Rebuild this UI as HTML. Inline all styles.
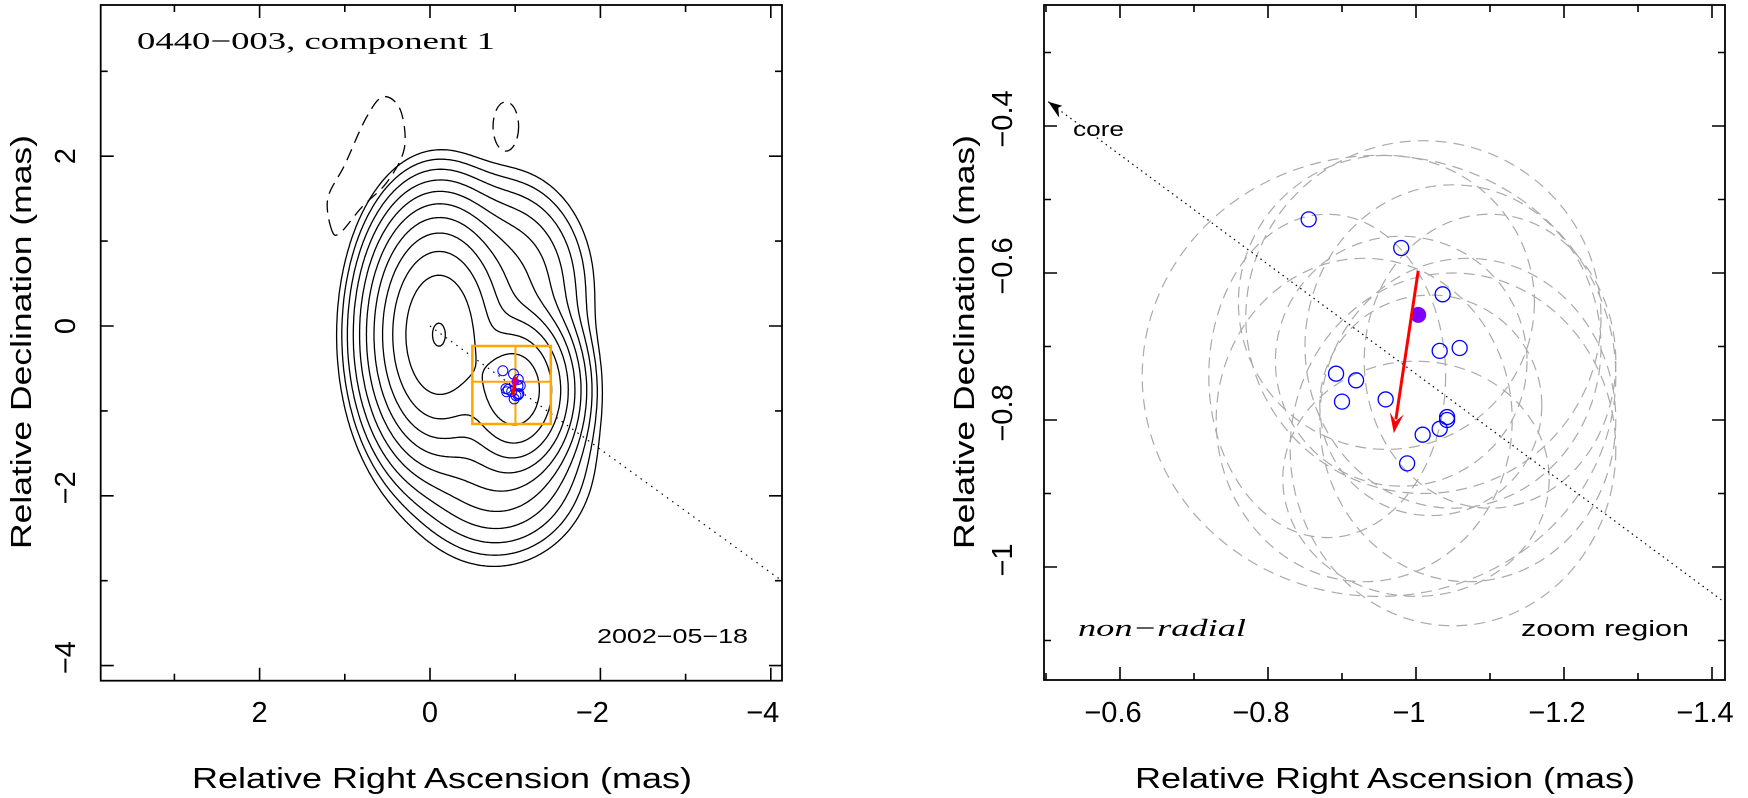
<!DOCTYPE html>
<html><head><meta charset="utf-8"><style>
html,body{margin:0;padding:0;background:#fff}
svg{display:block}
text{font-family:"Liberation Sans",sans-serif;fill:#000}
</style></head><body>
<svg id="chart" width="1748" height="798" viewBox="0 0 1748 798" xmlns="http://www.w3.org/2000/svg">
<g id="left"></g>
<g id="right"></g>
</svg>
<script>
// ---- data ----
const compX = [-0.855,-0.980,-1.036,-1.059,-1.032,-0.892,-0.919,-0.900,-0.959,-1.042,-1.042,-1.032,-1.009,-0.988];
const compY = [-0.527,-0.566,-0.629,-0.702,-0.706,-0.737,-0.746,-0.775,-0.772,-0.796,-0.800,-0.812,-0.820,-0.859];
const meanPos = [-1.003,-0.657];
const arrowFrom = [-1.003,-0.597];
const arrowTo = [-0.970,-0.818];
const ellCX = [-0.95,-1.01,-1.05,-1.07,-0.98,-1.02,-0.93,-1.10,-0.96,-1.05,-1.00,-0.88];
const ellCY = [-0.74,-0.66,-0.84,-0.80,-0.72,-0.78,-0.80,-0.72,-0.64,-0.70,-0.88,-0.74];
const ellRX = [0.32,0.24,0.22,0.20,0.17,0.15,0.20,0.17,0.20,0.20,0.18,0.16];
const ellRY = [0.30,0.24,0.24,0.22,0.17,0.15,0.22,0.20,0.20,0.22,0.16,0.22];
// source model components (gaussians): x, y, sx, sy, amplitude
const srcX = [-0.1,-1.0,-0.8,-0.9,-0.6];
const srcY = [-0.1,-0.75,-1.6,0.5,-0.5];
const srcSX = [0.32,0.27,0.42,0.38,0.48];
const srcSY = [0.58,0.38,0.45,0.5,0.8];
const srcA = [1.015,0.85,0.03,0.03,0.02];
const levels = [1.0,0.5,0.25,0.125,0.0625,0.03125,0.0156,0.0078,0.0039,0.00195,0.00098];
const negX1 = [1.15,1.2,1.0,0.75,0.55,0.35,0.3,0.5,0.8,1.05];
const negY1 = [1.12,1.5,1.9,2.45,2.7,2.55,2.1,1.7,1.4,1.1];
const negEll = [-0.89,2.35,0.15,0.29];
const leftXTicks = [2,0,-2,-4];
const leftYTicks = [2,0,-2,-4];
const rightXTicks = [-0.6,-0.8,-1,-1.2,-1.4];
const rightYTicks = [-0.4,-0.6,-0.8,-1];

const NS="http://www.w3.org/2000/svg";
function mk(parent,tag,attrs,txt){const e=document.createElementNS(NS,tag);for(const k in attrs)e.setAttribute(k,attrs[k]);if(txt!==undefined)e.textContent=txt;parent.appendChild(e);return e;}
function lbl(v){return (v<0?"\u2212":"")+String(Math.abs(v));}

const LX=v=>430-v*85.2, LY=v=>326-v*84.9;
const RX=v=>1416+(-1-v)*740, RY=v=>567-(v+1)*735;
const L=document.getElementById('left'), R=document.getElementById('right');

// contours via marching squares
function model(x,y){let s=0;for(let i=0;i<srcX.length;i++){const dx=(x-srcX[i])/srcSX[i],dy=(y-srcY[i])/srcSY[i];s+=srcA[i]*Math.exp(-(dx*dx+dy*dy)/2);}return s;}
const gx0=-3.2,gx1=2.2,gy0=-3.8,gy1=3.0,h=0.025;
const nx=Math.round((gx1-gx0)/h),ny=Math.round((gy1-gy0)/h);
const G=[];for(let j=0;j<=ny;j++){const row=[];for(let i=0;i<=nx;i++)row.push(model(gx0+i*h,gy0+j*h));G.push(row);}
const contG=mk(L,'g',{});
levels.forEach((lv,k)=>{
  let d="";
  for(let j=0;j<ny;j++)for(let i=0;i<nx;i++){
    const a=G[j][i],b=G[j][i+1],c=G[j+1][i+1],e=G[j+1][i];
    const x0=gx0+i*h,y0=gy0+j*h;const pts=[];
    const edge=(v1,v2,p1,p2)=>{if((v1>=lv)!==(v2>=lv)){const t=(lv-v1)/(v2-v1);pts.push([p1[0]+t*(p2[0]-p1[0]),p1[1]+t*(p2[1]-p1[1])]);}};
    edge(a,b,[x0,y0],[x0+h,y0]);edge(b,c,[x0+h,y0],[x0+h,y0+h]);edge(c,e,[x0+h,y0+h],[x0,y0+h]);edge(e,a,[x0,y0+h],[x0,y0]);
    for(let p=0;p+1<pts.length;p+=2)d+=`M${LX(pts[p][0]).toFixed(1)} ${LY(pts[p][1]).toFixed(1)}L${LX(pts[p+1][0]).toFixed(1)} ${LY(pts[p+1][1]).toFixed(1)}`;
  }
  const p=mk(contG,'path',{d:d,fill:'none',stroke:'#000','stroke-width':1.3,'stroke-linecap':'round'});
  
  
});
// negative contours (smooth closed curve)
{const P=negX1.map((v,i)=>[LX(v),LY(negY1[i])]);const n=P.length;let d=`M${P[0][0]} ${P[0][1]}`;
 for(let i=0;i<n;i++){const p0=P[(i-1+n)%n],p1=P[i],p2=P[(i+1)%n],p3=P[(i+2)%n];
  d+=`C${p1[0]+(p2[0]-p0[0])/6} ${p1[1]+(p2[1]-p0[1])/6} ${p2[0]-(p3[0]-p1[0])/6} ${p2[1]-(p3[1]-p1[1])/6} ${p2[0]} ${p2[1]}`;}
 mk(L,'path',{d:d,fill:'none',stroke:'#000','stroke-width':1.3,'stroke-dasharray':'12 7',});}
mk(L,'ellipse',{cx:LX(negEll[0]),cy:LY(negEll[1]),rx:negEll[2]*85.2,ry:negEll[3]*84.9,fill:'none',stroke:'#000','stroke-width':1.3,'stroke-dasharray':'12 7',});
mk(L,'line',{x1:LX(0),y1:LY(0),x2:LX(-4.13),y2:LY(-3.0),stroke:'#000','stroke-width':1.2,'stroke-dasharray':'1.5 5',});
// zoom box
const bx0=LX(-0.497),bx1=LX(-1.4176),by0=LY(-0.2354),by1=LY(-1.154);
mk(L,'rect',{x:bx0,y:by0,width:bx1-bx0,height:by1-by0,fill:'none',stroke:'#ffa500','stroke-width':2.5,});
mk(L,'line',{x1:LX(meanPos[0]),y1:by0,x2:LX(meanPos[0]),y2:by1,stroke:'#ffa500','stroke-width':2,});
mk(L,'line',{x1:bx0,y1:LY(meanPos[1]),x2:bx1,y2:LY(meanPos[1]),stroke:'#ffa500','stroke-width':2,});
compX.forEach((v,i)=>{const c=mk(L,'circle',{cx:LX(v),cy:LY(compY[i]),r:5,fill:'none',stroke:'#0000ff','stroke-width':1});
 });
mk(L,'circle',{cx:LX(meanPos[0]),cy:LY(meanPos[1]),r:4,fill:'#8000ff',});
mk(L,'line',{x1:LX(arrowFrom[0]),y1:LY(arrowFrom[1]),x2:LX(arrowTo[0]),y2:LY(arrowTo[1]),stroke:'#ff0000','stroke-width':3,});

function axes(P,X,Y,x0,x1,y0,y1,majX,minX,majY,minY){
  mk(P,'rect',{x:x0,y:y0,width:x1-x0,height:y1-y0,fill:'none',stroke:'#000','stroke-width':1.8,});
  let d="";
  const xs=(arr,len)=>arr.forEach(v=>{const x=X(v);if(x<x0+1||x>x1-1)return;d+=`M${x} ${y1}v${-len}M${x} ${y0}v${len}`;});
  const ys=(arr,len)=>arr.forEach(v=>{const y=Y(v);if(y<y0+1||y>y1-1)return;d+=`M${x0} ${y}h${len}M${x1} ${y}h${-len}`;});
  xs(majX,13);xs(minX,7);ys(majY,13);ys(minY,7);
  mk(P,'path',{d:d,stroke:'#000','stroke-width':1.6,fill:'none',});
}
function T(P,attrs,txt,name){const t=mk(P,'text',attrs,txt);t.setAttribute('lengthAdjust','spacingAndGlyphs');return t;}
axes(L,LX,LY,100.7,782,5,680.7,[2,0,-2,-4],[3,1,-1,-3],[2,0,-2,-4],[3,1,-1,-3]);
leftXTicks.forEach(v=>{T(L,{x:LX(v)+(v<0?-8:0),y:722,'font-size':29,'text-anchor':'middle'},lbl(v),'x-tick-label');});
leftYTicks.forEach(v=>{T(L,{x:0,y:0,'font-size':29,'text-anchor':'middle',transform:`translate(75 ${LY(v)+(v<0?-8:0)}) rotate(-90)`},lbl(v),'y-tick-label');});
T(L,{x:442,y:788,'font-size':29,'text-anchor':'middle',textLength:500},'Relative Right Ascension (mas)','x-axis-title');
T(L,{x:0,y:0,'font-size':29,'text-anchor':'middle',textLength:414,transform:'translate(31 342) rotate(-90)'},'Relative Declination (mas)','y-axis-title');
T(L,{x:137,y:49,'font-size':24,textLength:358,style:'font-family:"Liberation Serif",serif'},'0440\u2212003, component 1','plot-title');
T(L,{x:597,y:643,'font-size':20,textLength:151,fill:'#333'},'2002\u221205\u221218','epoch-label');

// ---- right panel ----
const clipR=mk(R,'clipPath',{id:'clipR'});mk(clipR,'rect',{x:1044,y:5,width:681,height:675});
const eg=mk(R,'g',{'clip-path':'url(#clipR)',});
ellCX.forEach((v,i)=>{const e=mk(eg,'ellipse',{cx:RX(v),cy:RY(ellCY[i]),rx:ellRX[i]*740,ry:ellRY[i]*735,fill:'none',stroke:'#aaa','stroke-width':1.2,'stroke-dasharray':'11 7'});
 });
mk(R,'line',{x1:RX(-0.503),y1:RY(-0.367),x2:RX(-1.417),y2:RY(-1.048),stroke:'#000','stroke-width':1.2,'stroke-dasharray':'1.5 4',});
{const ax=RX(-0.503),ay=RY(-0.367);mk(R,'path',{d:`M${ax} ${ay}l14 4l-4 2l1 10z`,fill:'#000',});}
compX.forEach((v,i)=>{const c=mk(R,'circle',{cx:RX(v),cy:RY(compY[i]),r:7.5,fill:'none',stroke:'#0000ff','stroke-width':1.3});
 });
mk(R,'circle',{cx:RX(meanPos[0]),cy:RY(meanPos[1]),r:8,fill:'#8000ff',});
{const x1=RX(arrowFrom[0]),y1=RY(arrowFrom[1]),x2=RX(arrowTo[0]),y2=RY(arrowTo[1]);
 const ang=Math.atan2(y2-y1,x2-x1),hl=20,hw=7;
 const bxp=x2-hl*Math.cos(ang),byp=y2-hl*Math.sin(ang);
 mk(R,'line',{x1:x1,y1:y1,x2:bxp+6*Math.cos(ang),y2:byp+6*Math.sin(ang),stroke:'#ff0000','stroke-width':3,});
 mk(R,'path',{d:`M${x2} ${y2}L${bxp+hw*Math.sin(ang)} ${byp-hw*Math.cos(ang)}L${x2-12*Math.cos(ang)} ${y2-12*Math.sin(ang)}L${bxp-hw*Math.sin(ang)} ${byp+hw*Math.cos(ang)}Z`,fill:'#ff0000',});}
axes(R,RX,RY,1044,1725,5,680,[-0.6,-0.8,-1,-1.2,-1.4],[-0.5,-0.7,-0.9,-1.1,-1.3],[-0.4,-0.6,-0.8,-1],[-0.3,-0.5,-0.7,-0.9,-1.1]);
rightXTicks.forEach(v=>{T(R,{x:RX(v)-7,y:722,'font-size':29,'text-anchor':'middle'},lbl(v),'x-tick-label');});
rightYTicks.forEach(v=>{T(R,{x:0,y:0,'font-size':29,'text-anchor':'middle',transform:`translate(1012 ${RY(v)-7}) rotate(-90)`},lbl(v),'y-tick-label');});
T(R,{x:1385,y:788,'font-size':29,'text-anchor':'middle',textLength:500},'Relative Right Ascension (mas)','x-axis-title');
T(R,{x:0,y:0,'font-size':29,'text-anchor':'middle',textLength:414,transform:'translate(974 342) rotate(-90)'},'Relative Declination (mas)','y-axis-title');
T(R,{x:1073,y:136,'font-size':20,textLength:51,fill:'#222'},'core','core-label');
T(R,{x:1078,y:636,'font-size':24,'font-style':'italic',textLength:168,style:'font-family:"Liberation Serif",serif'},'non\u2212radial','classification-label');
T(R,{x:1521,y:636,'font-size':22,textLength:168,fill:'#333'},'zoom region','zoom-region-label');
</script>
</body></html>
